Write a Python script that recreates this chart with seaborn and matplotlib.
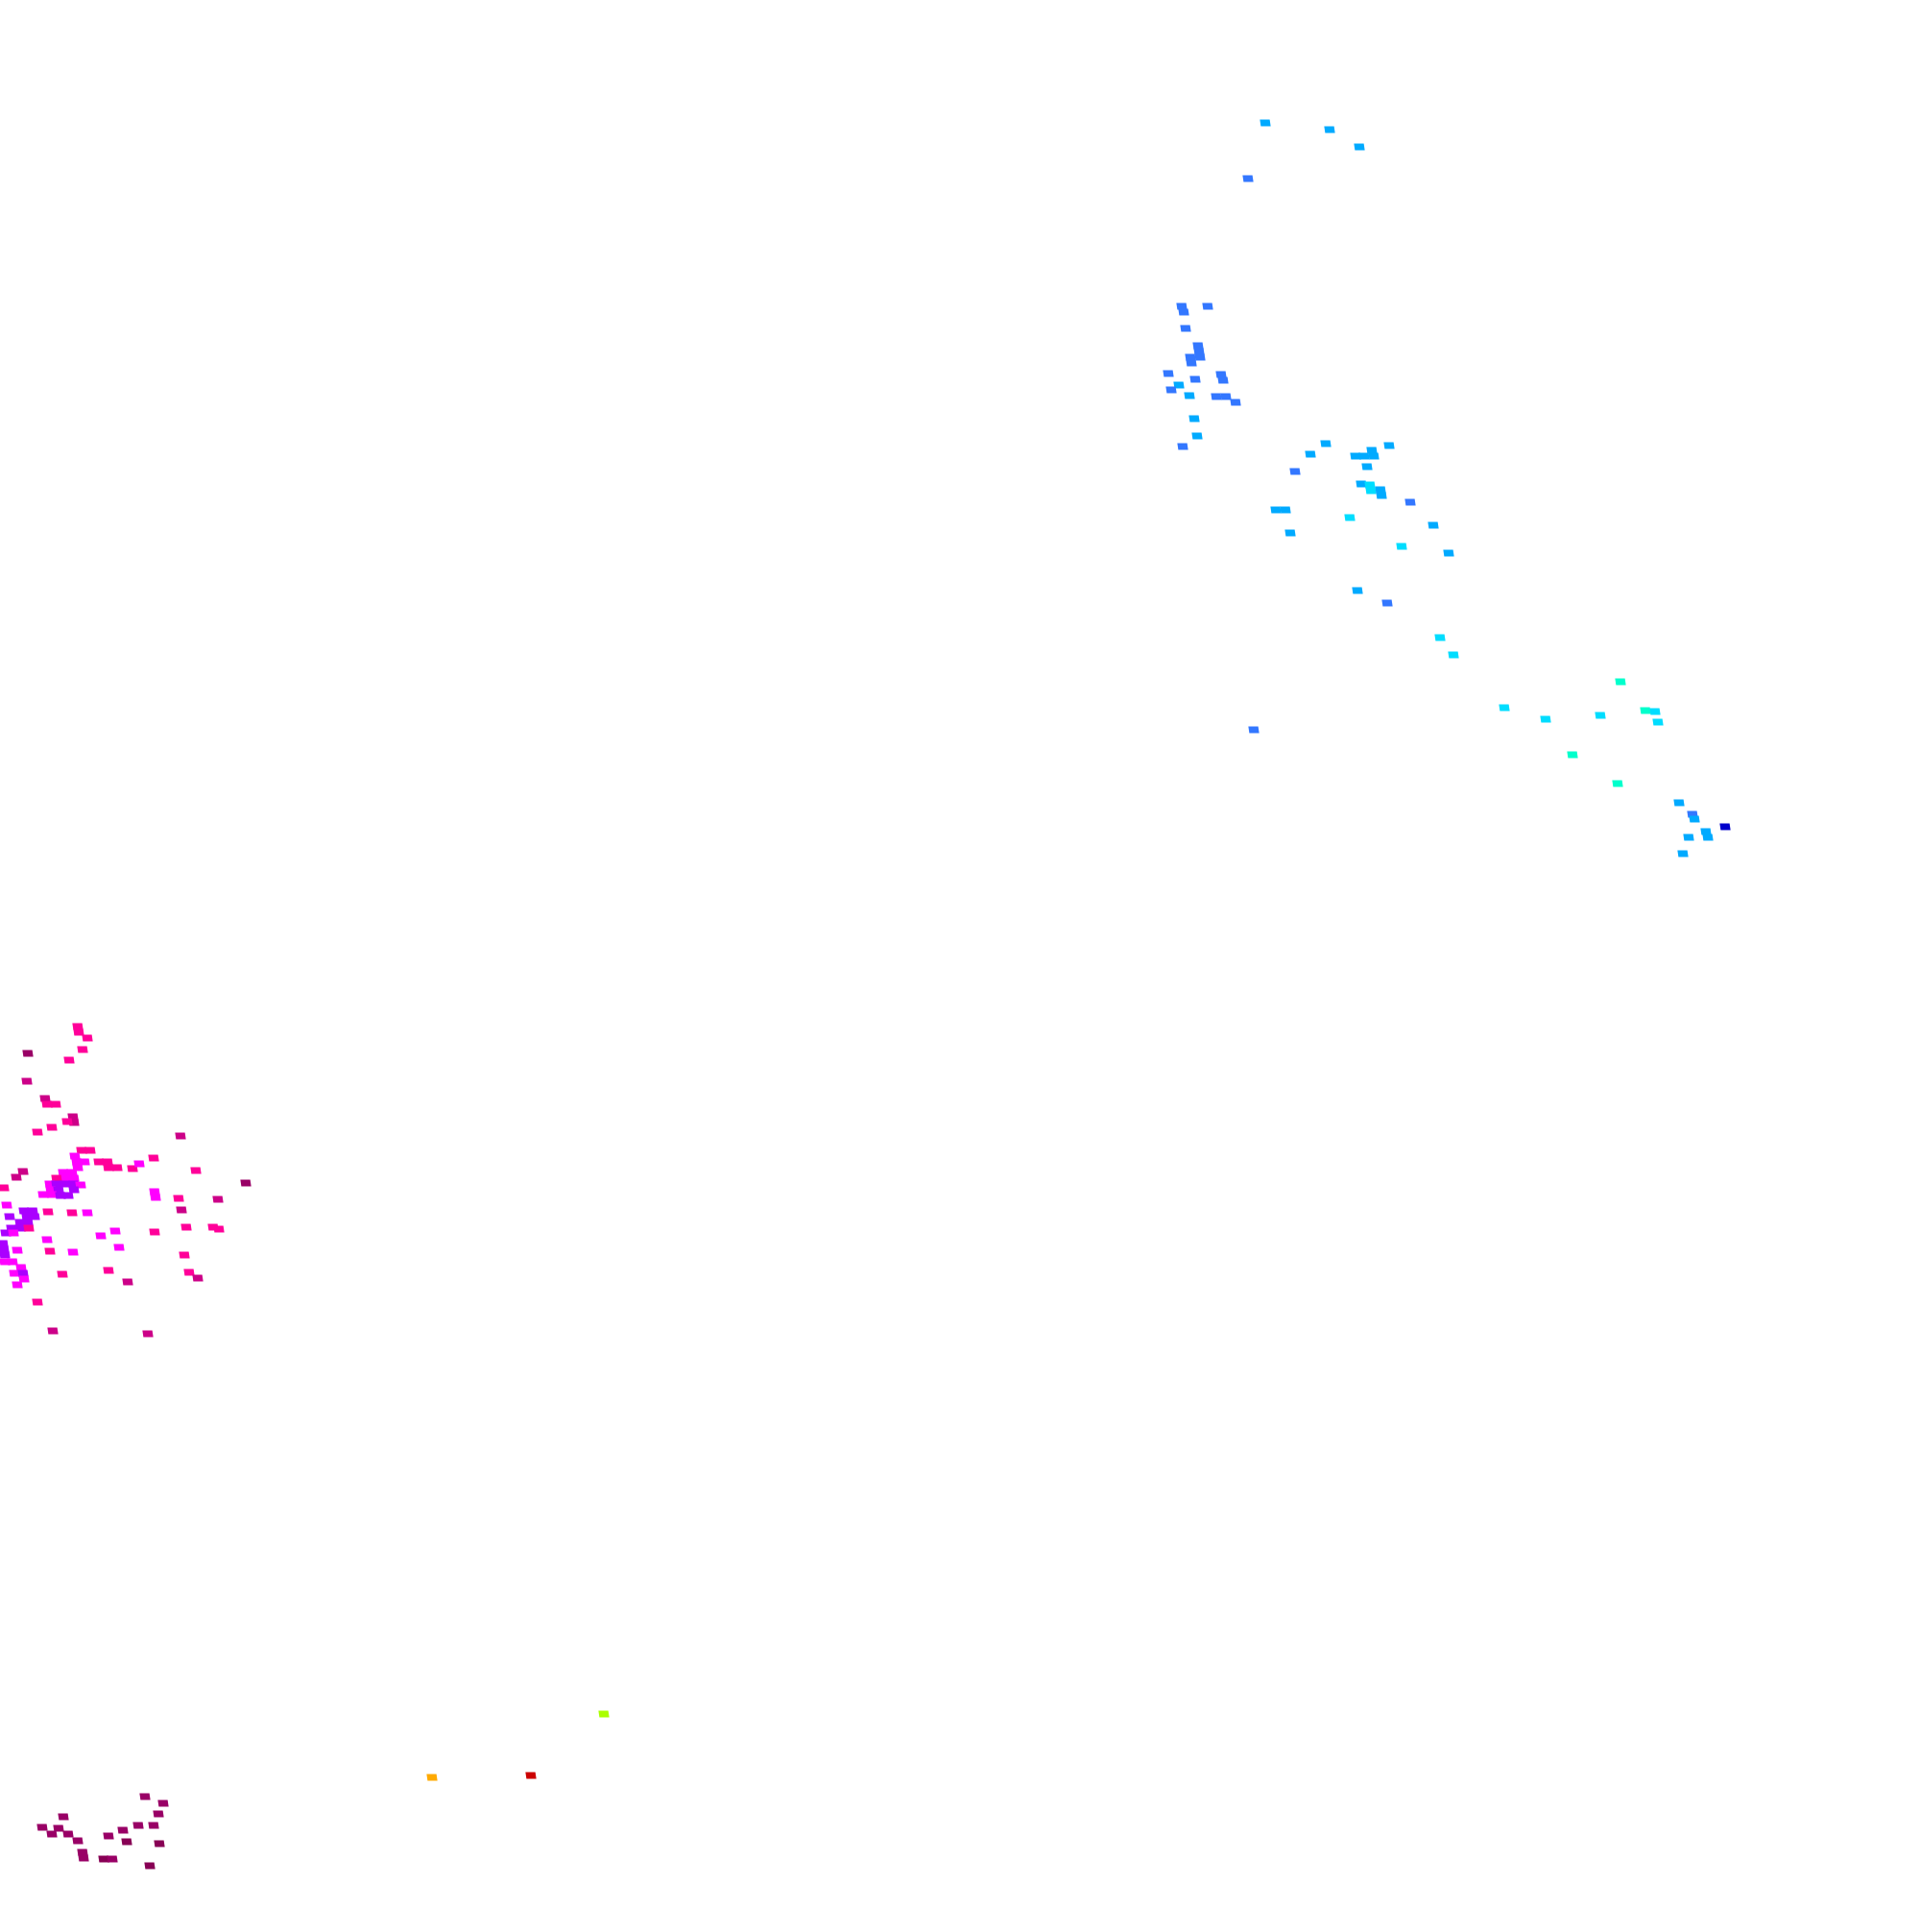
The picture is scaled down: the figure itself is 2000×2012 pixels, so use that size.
import matplotlib
matplotlib.use("Agg")
import matplotlib.pyplot as plt
import seaborn as sns
import pandas as pd

# colour classes of the grid cells, low to high
levels = list(range(14))
level_colors = ["#0000cc", "#3377ff", "#00aaff", "#00ddff", "#00ffcc",
                "#aaff00", "#ffaa00", "#cc0000", "#880055", "#990066",
                "#cc0088", "#ff0099", "#ff00ff", "#aa00ff"]

# cell centres (map x / y, y grows downward) and their class
cell_x = [
    # north-east group
    1318, 1385, 1416, 1300,
    1231, 1233, 1258, 1235, 1248, 1249, 1250, 1240, 1241, 1217, 1245, 1272,
    1274, 1228, 1220, 1239, 1267, 1277, 1287, 1244, 1247, 1232,
    1381, 1447, 1365, 1429, 1412, 1421, 1431, 1424, 1349, 1418, 1427, 1428,
    1438, 1439, 1469, 1329, 1339, 1406, 1493, 1344, 1460, 1509, 1414, 1445,
    1500, 1514, 1306,
    1688, 1567, 1610, 1667, 1714, 1724, 1727, 1638, 1685,
    1749, 1763, 1765, 1797, 1777, 1779, 1759, 1753,
    # south
    629, 450, 553,
    151, 170, 165, 66, 44, 61, 144, 160, 128, 54, 71, 113, 81, 132, 166,
    86, 87, 108, 117, 156,
    # west group
    81, 82, 91, 29, 86, 72, 28, 47, 49, 58, 76, 77, 70, 54, 39, 188,
    85, 94, 78, 80, 88, 81, 103, 112, 113, 122, 138, 145, 160, 204, 24, 17,
    66, 75, 68, 77, 59, 52, 59, 68, 77, 84, 53, 61, 77, 45, 54, 63, 71,
    4, 256, 161, 162, 186, 227, 189, 7, 25, 34, 28, 36, 10, 21, 29, 12, 21,
    30, 6, 14, 50, 75, 91, 194, 222, 228, 161, 105, 120, 49, 3, 4, 5, 18,
    52, 76, 124, 192, 5, 13, 22, 15, 24, 25, 18, 65, 113, 133, 197, 206,
    39, 55, 154,
]
cell_y = [
    128, 135, 153, 186,
    319, 325, 319, 342, 360, 366, 372, 372, 378, 389, 395, 390,
    396, 401, 406, 412, 413, 413, 419, 436, 454, 465,
    462, 464, 473, 469, 475, 475, 475, 486, 491, 504, 505, 511,
    510, 516, 523, 531, 531, 539, 547, 555, 569, 576, 615, 628,
    664, 682, 760,
    710, 737, 749, 745, 740, 741, 752, 786, 816,
    836, 848, 853, 861, 866, 872, 872, 889,
    1785, 1851, 1849,
    1871, 1878, 1889, 1892, 1903, 1904, 1901, 1901, 1906, 1910, 1910, 1912,
    1917, 1918, 1920, 1929, 1935, 1936, 1936, 1943,
    1069, 1075, 1081, 1097, 1093, 1104, 1126, 1144, 1150, 1150, 1163, 1169,
    1168, 1174, 1179, 1183,
    1198, 1198, 1204, 1210, 1210, 1216, 1210, 1210, 1216, 1216, 1217, 1212,
    1206, 1219, 1220, 1226,
    1221, 1221, 1227, 1227, 1227, 1233, 1233, 1233, 1233, 1234, 1239, 1239,
    1239, 1244, 1244, 1245, 1245,
    1237, 1232, 1241, 1247, 1248, 1249, 1260, 1255, 1261, 1261, 1267, 1267,
    1267, 1273, 1273, 1279, 1279,
    1279, 1284, 1284, 1262, 1263, 1263, 1278, 1278, 1280, 1283, 1287, 1282,
    1291, 1295, 1301, 1307, 1302,
    1303, 1304, 1299, 1307, 1314, 1314, 1320, 1326, 1326, 1332, 1338, 1327,
    1323, 1335, 1325, 1331,
    1356, 1386, 1389,
]
cell_level = [
    2, 2, 2, 1,
    1, 1, 1, 1, 1, 1, 1, 1, 1, 1, 1, 1,
    1, 2, 1, 2, 1, 1, 1, 2, 2, 1,
    2, 2, 2, 2, 2, 2, 2, 2, 1, 2, 3, 3,
    2, 2, 1, 2, 2, 3, 2, 2, 3, 2, 2, 1,
    3, 3, 1,
    4, 3, 3, 3, 4, 3, 3, 4, 4,
    2, 1, 2, 0, 2, 2, 2, 2,
    5, 6, 7,
    9, 9, 9, 9, 9, 9, 9, 9, 9, 9, 9, 9,
    9, 8, 8, 9, 9, 8, 9, 8,
    11, 11, 11, 9, 11, 11, 10, 10, 11, 11, 10, 10,
    11, 11, 11, 10,
    11, 11, 12, 12, 12, 12, 11, 11, 11, 11, 11, 12,
    11, 11, 10, 10,
    12, 12, 12, 12, 11, 12, 13, 13, 13, 12, 12, 13,
    13, 12, 12, 13, 13,
    11, 9, 12, 12, 11, 10, 10, 12, 13, 13, 13, 13,
    13, 13, 13, 13, 13,
    11, 13, 12, 11, 11, 12, 11, 11, 11, 11, 12, 12,
    12, 13, 13, 13, 12,
    11, 12, 12, 11, 12, 12, 12, 12, 13, 12, 12, 11,
    11, 10, 11, 10,
    11, 10, 10,
]

df = pd.DataFrame({"x": cell_x, "y": cell_y, "level": cell_level})
palette = dict(zip(levels, level_colors))

# slanted grid cell
cell = [(-5.5, 3.4), (4.5, 3.4), (5.5, -3.4), (-4.5, -3.4)]

fig = plt.figure(figsize=(20, 20.12), dpi=100)
fig.patch.set_facecolor("white")
ax = fig.add_axes([0, 0, 1, 1])
sns.scatterplot(data=df, x="x", y="y", hue="level", palette=palette,
                marker=cell, s=66, linewidth=0, legend=False, ax=ax)
ax.set_xlim(0, 2000)
ax.set_ylim(2012, 0)
ax.set_axis_off()

fig.savefig("out.png", dpi=100, facecolor="white")
plt.close()
